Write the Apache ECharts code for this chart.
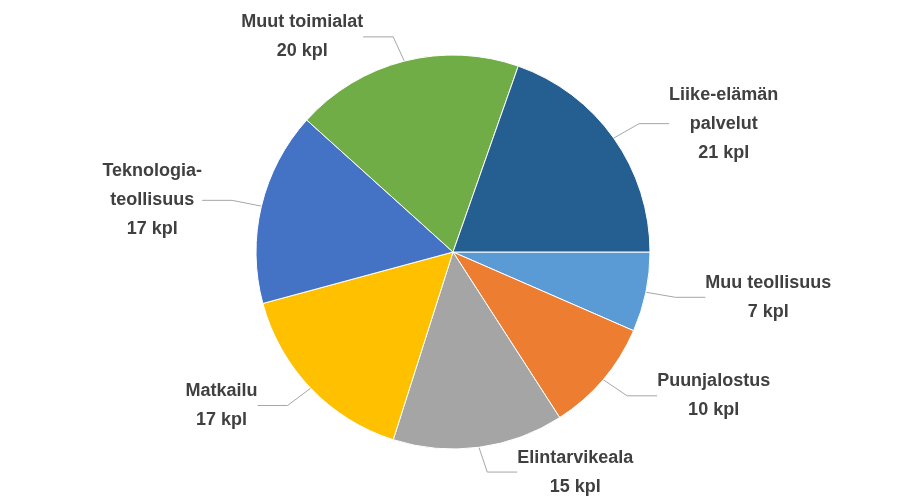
<!DOCTYPE html>
<html><head><meta charset="utf-8">
<script src="https://cdn.jsdelivr.net/npm/echarts@6/dist/echarts.min.js"></script>
<style>html,body{margin:0;padding:0;background:#fff}#c{width:905px;height:504px}</style>
</head><body><div id="c"></div>
<script>
const categories = ["Muu teollisuus","Puunjalostus","Elintarvikeala","Matkailu","Teknologia-\nteollisuus","Muut toimialat","Liike-elämän\npalvelut"];
const values = [7,10,15,17,17,20,21];
const colors = ["#5B9BD5","#ED7D31","#A5A5A5","#FFC000","#4472C4","#70AD47","#255E91"];
const chart = echarts.init(document.getElementById('c'));
chart.setOption({
  animation:false,
  series:[{
    type:'pie',
    center:[453,252],
    radius:197,
    startAngle:0,
    clockwise:true,
    data:categories.map((n,i)=>({name:n,value:values[i],itemStyle:{color:colors[i]}})),
    itemStyle:{borderColor:'#fff',borderWidth:1},
    label:{
      formatter:p=>p.name+'\n'+p.value+' kpl',
      fontFamily:'Liberation Sans, Arial',fontWeight:'bold',fontSize:18,color:'#404040',
      lineHeight:29
    },
    labelLine:{length:25,length2:30,lineStyle:{color:'#A6A6A6',width:1}},
    labelLayout:function(p){
      return {x:p.labelRect.x+p.labelRect.width/2, y:p.labelRect.y+p.labelRect.height/2, align:'center', verticalAlign:'middle'};
    }
  }]
});
</script></body></html>
